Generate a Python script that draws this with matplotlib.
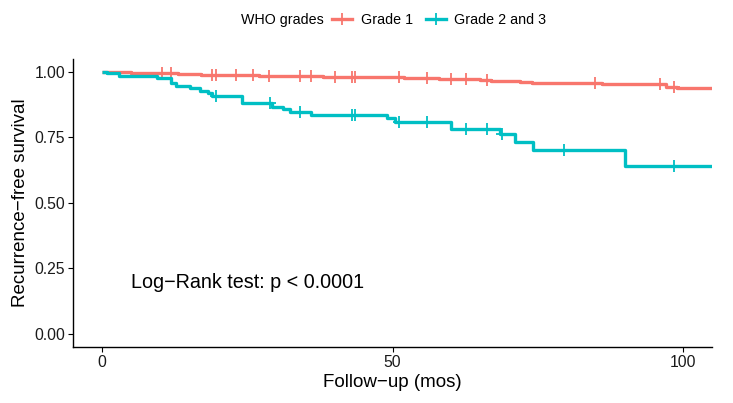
import matplotlib.pyplot as plt
from matplotlib.lines import Line2D

plt.rcParams['font.family'] = ['Liberation Sans', 'DejaVu Sans']

# step curves (time, survival)
g1_time = [0, 2, 5, 8, 13, 17, 22, 27, 31, 38, 45, 52, 58, 63, 65, 67, 72, 74, 86, 97, 99, 105]
g1_surv = [1.0, 0.998, 0.996, 0.994, 0.992, 0.989, 0.987, 0.985, 0.983, 0.980, 0.978,
           0.976, 0.974, 0.971, 0.968, 0.965, 0.962, 0.958, 0.955, 0.943, 0.939, 0.939]
g1_cens = [10.3, 11.9, 18.9, 19.7, 23.1, 26.0, 28.8, 34.0, 36.0, 40.1, 43.1, 43.5,
           51.2, 56.0, 60.1, 62.7, 66.2, 84.8, 96.0, 98.4]

g2_time = [0, 0.9, 2.9, 9.5, 11.9, 12.8, 15.1, 16.9, 18.2, 18.9, 24.1, 29.3, 31.2, 32.3,
           35.9, 49.0, 50.5, 60.1, 68.5, 71.0, 74.1, 90.1, 105]
g2_surv = [1.0, 0.994, 0.984, 0.975, 0.956, 0.946, 0.937, 0.928, 0.918, 0.909, 0.882,
           0.867, 0.857, 0.848, 0.835, 0.825, 0.810, 0.781, 0.762, 0.730, 0.702, 0.641, 0.641]
g2_cens = [19.6, 28.9, 34.0, 43.1, 43.5, 51.2, 56.0, 62.7, 66.2, 68.9, 79.5, 98.4]

labels = ['Grade 1', 'Grade 2 and 3']
colors = ['#F8766D', '#00BFC4']


def surv_at(t, times, surv):
    s = surv[0]
    for tt, ss in zip(times, surv):
        if tt <= t:
            s = ss
    return s


fig = plt.figure(figsize=(7.33, 4.03), dpi=100)
ax = fig.add_axes([0.0996, 0.139, 0.8718, 0.7156])

series = [(g1_time, g1_surv, g1_cens), (g2_time, g2_surv, g2_cens)]
for (t, s, c), col in zip(series, colors):
    ax.step(t, s, where='post', color=col, lw=2.4, solid_capstyle='butt')
    cy = [surv_at(x, t, s) for x in c]
    ax.plot(c, cy, ls='none', marker='+', ms=9, mew=1.3, color=col)

ax.text(4.9, 0.195, 'Log\u2212Rank test: p < 0.0001', fontsize=14.2, ha='left', va='center')

ax.set_xlim(-5, 105)
ax.set_ylim(-0.05, 1.05)
ax.set_xticks([0, 50, 100])
ax.set_yticks([0, 0.25, 0.5, 0.75, 1.0])
ax.set_yticklabels(['0.00', '0.25', '0.50', '0.75', '1.00'])
ax.tick_params(labelsize=11.3, length=3.5, width=0.8, color='black', pad=2, labelcolor='#1a1a1a')
for side in ['top', 'right']:
    ax.spines[side].set_visible(False)
for side in ['left', 'bottom']:
    ax.spines[side].set_linewidth(1.0)
ax.set_xlabel('Follow\u2212up (mos)', fontsize=13.5, labelpad=3)
ax.set_ylabel('Recurrence\u2212free survival', fontsize=13.5, labelpad=4)

handles = [Line2D([], [], color=c, lw=2.4, marker='+', ms=9, mew=1.3) for c in colors]
fig.text(241 / 733, 1 - 20 / 403, 'WHO grades', fontsize=10.3, ha='left', va='center')
fig.legend(handles, labels, ncol=2, loc='center left', bbox_to_anchor=(332 / 733, 1 - 20 / 403),
           frameon=False, fontsize=10.3, handlelength=1.4, handletextpad=0.6, columnspacing=0.9,
           borderaxespad=0, borderpad=0)

fig.savefig('out.png', dpi=100)
